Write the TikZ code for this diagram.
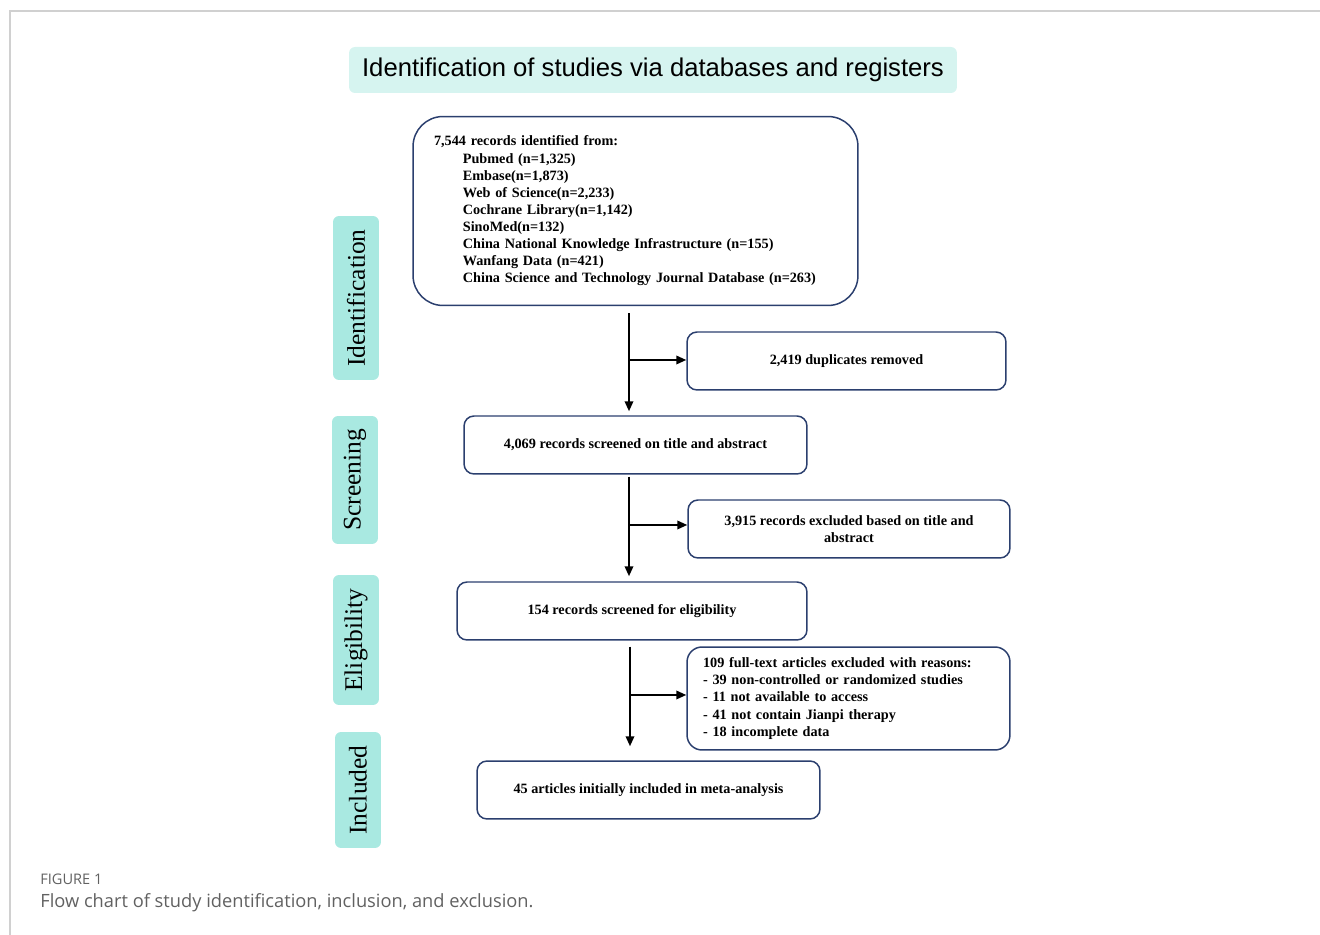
\documentclass[tikz,border=0pt]{standalone}
\usepackage{fontspec}
\setmainfont{Liberation Serif}
\newfontfamily\titlefont{Liberation Sans}
\newfontfamily\capfont{Open Sans}
\usepackage{tikz}
\usetikzlibrary{calc,arrows.meta,positioning}
\definecolor{navy}{HTML}{2B3F6E}
\definecolor{sidecyan}{HTML}{A9E9E1}
\definecolor{titlecyan}{HTML}{D6F4F0}
\definecolor{framegray}{HTML}{D0D0D0}
\tikzset{
    stagebox/.style={draw=navy, line width=0.85pt, rounded corners=0.2cm, minimum height=1.16cm,
        font=\fontsize{8.1}{9.75}\selectfont\bfseries, align=center, inner sep=2pt},
    phase/.style={fill=sidecyan, rounded corners=0.12cm, rotate=90, minimum height=0.92cm,
        font=\fontsize{14.5}{16}\selectfont, inner sep=0pt},
    flow/.style={draw, line width=1.1pt, -{Triangle[length=0.2cm, width=0.17cm]}}
}

\begin{document}
\begin{tikzpicture}[x=0.02cm, y=-0.02cm]
    \useasboundingbox (0,0) rectangle (1320,935);
    % frame
    \draw[framegray, line width=0.6pt] (1320,11) -- (10,11) -- (10,935);

    % Nodes
    \node[fill=titlecyan, rounded corners=0.12cm, minimum width=12.16cm, minimum height=0.92cm,
        font=\titlefont\fontsize{14.6}{16}\selectfont] (title) at (653,70)
        {Identification of studies via databases and registers};

    \node[stagebox, rounded corners=0.6cm, minimum width=8.9cm, minimum height=3.78cm,
        align=left, text width=8.06cm, inner xsep=0.42cm] (ident) at (635.5,211)
        {7,544 records identified from:\\
         \hspace*{16.4pt}Pubmed (n=1,325)\\
         \hspace*{16.4pt}Embase(n=1,873)\\
         \hspace*{16.4pt}Web of Science(n=2,233)\\
         \hspace*{16.4pt}Cochrane Library(n=1,142)\\
         \hspace*{16.4pt}SinoMed(n=132)\\
         \hspace*{16.4pt}China National Knowledge Infrastructure (n=155)\\
         \hspace*{16.4pt}Wanfang Data (n=421)\\
         \hspace*{16.4pt}China Science and Technology Journal Database (n=263)};
    \node[stagebox, minimum width=6.38cm] (dup) at (846.5,361) {2,419 duplicates removed};
    \node[stagebox, minimum width=6.86cm] (screen) at (635.5,445) {4,069 records screened on title and abstract};
    \node[stagebox, minimum width=6.44cm] (excl) at (849,529) {3,915 records excluded based on title and\\abstract};
    \node[stagebox, minimum width=7.0cm] (elig) at (632,611) {154 records screened for eligibility};
    \node[stagebox, rounded corners=0.3cm, minimum width=6.46cm, minimum height=2.06cm,
        align=left, text width=5.82cm, inner xsep=0.32cm] (fulltext) at (848.5,698.5)
        {109 full-text articles excluded with reasons:\\
         - 39 non-controlled or randomized studies\\
         - 11 not available to access\\
         - 41 not contain Jianpi therapy\\
         - 18 incomplete data};
    \node[stagebox, minimum width=6.86cm] (incl) at (648.5,790) {45 articles initially included in meta-analysis};

    % phases
    \node[phase, minimum width=3.28cm] (pIdent) at (356,298) {Identification};
    \node[phase, minimum width=2.56cm] (pScreen) at (355,480) {Screening};
    \node[phase, minimum width=2.6cm] (pElig) at (356,640) {Eligibility};
    \node[phase, minimum width=2.32cm] (pIncl) at (358,790) {Included};

    % edges
    \coordinate (b1) at (629,360);
    \coordinate (b2) at (629,525);
    \coordinate (b3) at (630,695);
    \draw[flow, shorten <=0.14cm, shorten >=0.08cm] (ident.south -| b1) -- (screen.north -| b1);
    \draw[flow] (b1) -- (b1 -| dup.west);
    \draw[flow, shorten <=0.04cm, shorten >=0.1cm] (screen.south -| b2) -- (elig.north -| b2);
    \draw[flow] (b2) -- (b2 -| excl.west);
    \draw[flow, shorten <=0.12cm, shorten >=0.28cm] (elig.south -| b3) -- (incl.north -| b3);
    \draw[flow] (b3) -- (b3 -| fulltext.west);

    % caption
    \node[anchor=base west, inner sep=0pt, text=black!62, font=\capfont\fontsize{8.3}{9}\selectfont] (figno) at (40,885) {FIGURE 1};
    \node[anchor=base west, inner sep=0pt, text=black!62, font=\capfont\fontsize{10.4}{12}\selectfont] (caption) at (40,908)
        {Flow chart of study identification, inclusion, and exclusion.};
\end{tikzpicture}
\end{document}
